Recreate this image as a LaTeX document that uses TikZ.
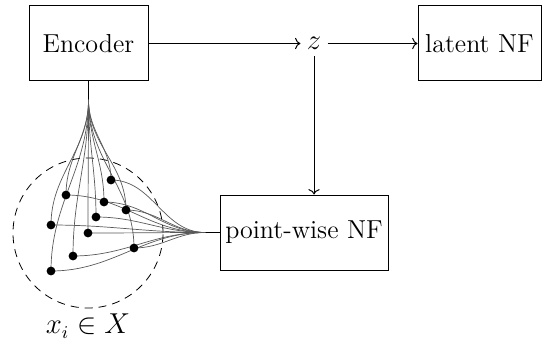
\documentclass[tikz,border=0pt]{standalone}
\usetikzlibrary{arrows.meta}
\begin{document}
\begin{tikzpicture}[x=0.5pt,y=-0.5pt,
  box/.style={draw, line width=0.5pt, minimum height=37.5pt, inner sep=0pt, font=\fontsize{13}{15}\selectfont},
  fanline/.style={draw=black!65, line width=0.35pt},
  dot/.style={circle, fill=black, inner sep=0pt, minimum size=4.4pt},
  conn/.style={line width=0.5pt, ->}]
\useasboundingbox (0,0) rectangle (544,347);
\node[box, minimum width=59.5pt] (enc) at (88.5,43.5) {Encoder};
\node[box, minimum width=61.5pt] (lat) at (479.5,43.5) {latent NF};
\node[box, minimum width=84pt] (pw) at (304,232.5) {point-wise NF};
\node[inner sep=3pt, font=\fontsize{14}{16}\selectfont] (z) at (314,43.5) {$z$};
\node[font=\fontsize{13.5}{16}\selectfont] (lbl) at (88,326) {$x_i \in X$};
\node[draw, line width=0.4pt, circle, minimum size=75pt, inner sep=0pt, dash pattern=on 4pt off 3pt] (cloud) at (88,233) {};
\coordinate (encfork) at (88.5,100);
\coordinate (pwfork) at (205,232.5);
\draw[conn] (enc.east) -- (enc.east -| z.west);
\draw[conn] (z.east |- lat.west) -- (lat.west);
\draw[conn] (z.south) -- (pw.north -| z.south);
\foreach \n/\x/\y in {a/111/180, b/66/195, c/104/202, d/126/210, e/96/217, f/51/225, g/88/233, h/134/248, i/73/256, j/51/271} {
  \coordinate (p\n) at (\x,\y);
}
\draw[line width=0.6pt] (enc.south) -- (encfork);
\draw[line width=0.6pt] (pwfork) -- (pw.west);
\foreach \n in {a,b,c,d,e,f,g,h,i,j} {
  \draw[fanline] (encfork) to[out=-90,in=90] (p\n);
  \draw[fanline] (p\n) to[out=0,in=180] (pwfork);
}
\foreach \n in {a,b,c,d,e,f,g,h,i,j} {
  \node[dot] (d\n) at (p\n) {};
}
\end{tikzpicture}
\end{document}
